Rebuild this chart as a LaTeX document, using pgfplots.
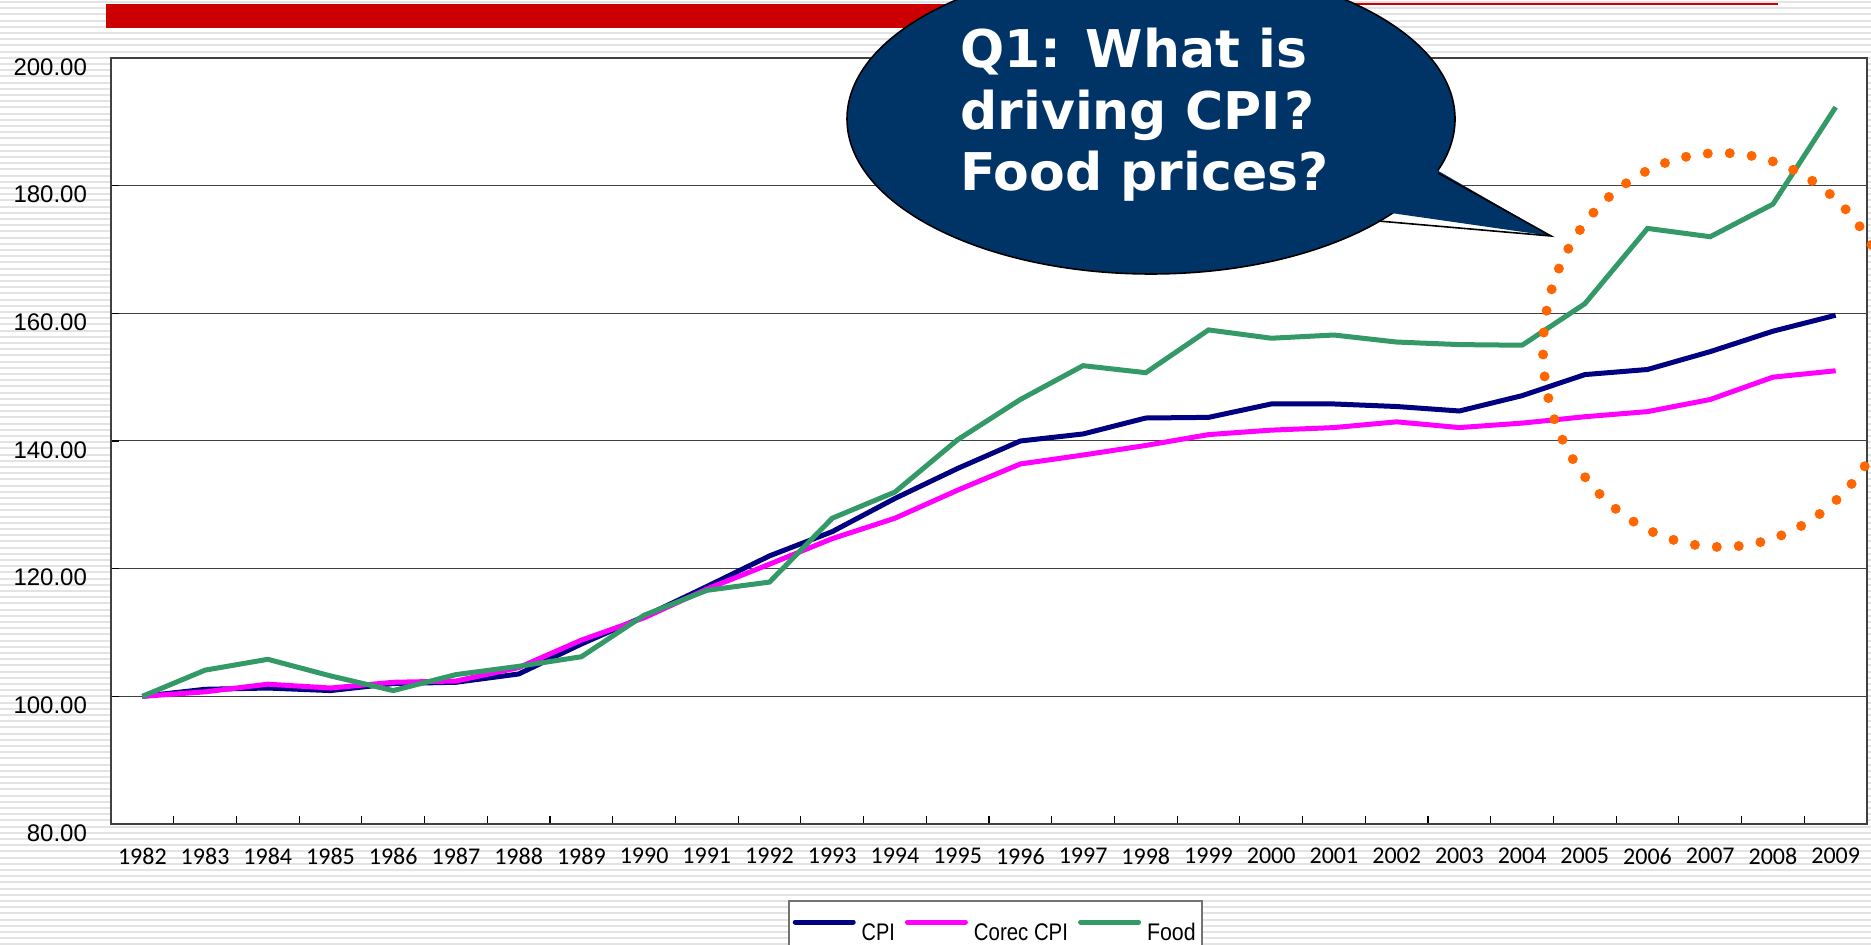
\documentclass[border=0pt]{standalone}
\usepackage{pgfplots}
\pgfplotsset{compat=1.18}
\usepackage{pgfplotstable}
\usepackage{graphicx}
\usepackage{fontspec}
\setmainfont{Liberation Sans}
\newfontfamily\carlito{Carlito}
\newfontfamily\calloutfont{DejaVu Sans Bold}
\definecolor{cpi}{HTML}{000080}
\definecolor{core}{HTML}{FF00FF}
\definecolor{food}{HTML}{339966}
\definecolor{callout}{HTML}{003366}
\definecolor{dots}{HTML}{FF6600}
\definecolor{redbar}{HTML}{CC0000}
\pgfplotstableread{
idx cpi core food
0 100.0 100.0 100.0
1 101.1 100.7 104.1
2 101.3 101.9 105.8
3 100.9 101.3 103.2
4 102.0 102.2 100.9
5 102.2 102.4 103.4
6 103.5 104.5 104.7
7 108.2 108.8 106.2
8 112.5 112.3 112.7
9 117.2 116.8 116.6
10 122.0 120.7 117.9
11 125.8 124.7 127.9
12 131.0 127.9 132.0
13 135.7 132.3 140.2
14 140.0 136.4 146.5
15 141.1 137.8 151.8
16 143.6 139.3 150.7
17 143.7 141.0 157.4
18 145.8 141.7 156.1
19 145.8 142.1 156.6
20 145.4 143.0 155.5
21 144.7 142.1 155.1
22 147.1 142.8 155.0
23 150.4 143.8 161.5
24 151.2 144.6 173.3
25 154.0 146.5 172.0
26 157.2 150.0 177.1
27 159.7 151.0 192.3
}\datatable
\newcommand{\legtext}[2]{\rule{0pt}{17pt}\scalebox{#1}[1]{#2}}
\begin{document}
\begin{tikzpicture}[x=0.5pt,y=0.5pt]
\useasboundingbox (0,0) rectangle (1871,945);
\clip (0,0) rectangle (1871,945);
\fill[white] (0,0) rectangle (1871,945);
\foreach \i in {0,...,152} {
  \fill[black!11] (0,{945-6.2*\i-1}) rectangle (1871,{945-6.2*\i-3});
}
\fill[redbar] (106,941) rectangle (1000,917);
\fill[redbar] (1000,942) rectangle (1778,940);
\begin{axis}[
  at={(55.5pt,60.5pt)}, anchor=south west,
  scale only axis, width=878pt, height=383pt,
  axis background/.style={fill=white},
  xmin=-0.5, xmax=27.5, ymin=80, ymax=200,
  ytick={80,100,...,200},
  yticklabels={80.00,100.00,120.00,140.00,160.00,180.00,200.00},
  yticklabel style={font=\fontsize{12}{14}\selectfont, xshift=-8.5pt, yshift=-4.5pt},
  xtick={-0.5,0.5,...,27.5},
  xticklabels={},
  extra x ticks={0,...,27},
  extra x tick labels={1982,1983,1984,1985,1986,1987,1988,1989,1990,1991,1992,1993,1994,1995,1996,1997,1998,1999,2000,2001,2002,2003,2004,2005,2006,2007,2008,2009},
  extra x tick style={major tick length=0pt, xticklabel style={font=\carlito\fontsize{12}{14}\selectfont, yshift=-8.5pt}},
  tick pos=left, tick align=inside,
  major tick length=4pt,
  tick style={black, line width=0.6pt},
  ymajorgrids,
  major grid style={black!75, line width=0.5pt},
  axis line style={black!75, line width=0.8pt},
  legend columns=3,
  legend style={at={(0.3855,-0.0992)}, anchor=north west, draw=black!55, line width=0.8pt,
    font=\fontsize{12}{14}\selectfont, inner sep=2pt,
    nodes={inner sep=1pt},
    /tikz/every odd column/.append style={column sep=2pt},
    /tikz/every even column/.append style={column sep=4pt}},
  legend image code/.code={\draw[#1, line cap=round] (0pt,1.6pt) -- (29pt,1.6pt);},
]
\addplot[cpi, line width=2.5pt] table[x=idx, y=cpi] {\datatable};
\addlegendentry{\legtext{0.83}{CPI}}
\addplot[core, line width=2.5pt] table[x=idx, y=core] {\datatable};
\addlegendentry{\legtext{0.85}{Corec CPI}}
\addplot[food, line width=2.5pt] table[x=idx, y=food] {\datatable};
\addlegendentry{\legtext{0.89}{Food}}
\end{axis}
% callout
\filldraw[fill=callout, draw=black, line width=0.8pt] (1151,826) ellipse [x radius=304, y radius=155];
\fill[callout] (1370,735) -- (1551,709) -- (1428,780) -- cycle;
\draw[black, line width=0.8pt] (1378,724) -- (1551,709) -- (1438,772);
\node[anchor=base west, white, inner sep=0pt, font=\calloutfont\fontsize{26}{30}\selectfont] at (960,877) {Q1: What is};
\node[anchor=base west, white, inner sep=0pt, font=\calloutfont\fontsize{26}{30}\selectfont] at (960,815) {driving CPI\kern2pt?};
\node[anchor=base west, white, inner sep=0pt, font=\calloutfont\fontsize{26}{30}\selectfont] at (960,754) {Food prices?};
% dotted ellipse
\draw[dots, line width=5pt, line cap=round, dash pattern=on 0pt off 11pt] (1721,595) ellipse [x radius=178, y radius=197];
\end{tikzpicture}
\end{document}
